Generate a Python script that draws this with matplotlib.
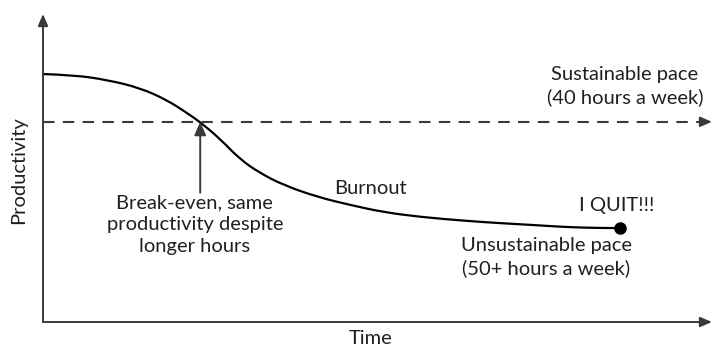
import matplotlib
matplotlib.use("Agg")
import matplotlib.pyplot as plt
from matplotlib.path import Path
from matplotlib.patches import PathPatch

# Productivity over time when working unsustainable hours
time = [0, 4.5, 9.6, 14.5, 18.5, 21.5, 23.5, 26.5, 29.4, 32.4, 35.9, 41.0,
        45.9, 50.8, 56.4, 63.4, 68.3, 73.2, 78.3, 83.3, 86.2]
productivity = [80.5, 80.2, 78.6, 76.0, 72.1, 67.9, 64.9, 59.4, 52.9, 48.4, 44.5,
                40.6, 38.0, 35.7, 34.1, 32.8, 32.1, 31.5, 30.8, 30.5, 30.5]
sustainable_level = 65.0
break_even_time = 23.5
quit_time = time[-1]
quit_level = productivity[-1]

TEXT = "#231f20"
AXIS = "#3a3a3a"
FONT = "Lato"
FS = 14.5

W, H = 712, 347
fig = plt.figure(figsize=(W / 100, H / 100), dpi=100)
ax = fig.add_axes([43 / W, (H - 322) / H, (712 - 43) / W, (322 - 14) / H])
ax.set_xlim(0, 100)
ax.set_ylim(0, 100)
ax.axis("off")

# axes drawn as arrows
arrow_kw = dict(arrowstyle="-|>,head_length=0.7,head_width=0.3", color=AXIS, lw=1.4,
                shrinkA=0, shrinkB=0)
ax.annotate("", xy=(0, 100), xytext=(0, 0), arrowprops=arrow_kw, annotation_clip=False)
ax.annotate("", xy=(100, 0), xytext=(0, 0), arrowprops=arrow_kw, annotation_clip=False)

# sustainable pace (dashed)
ax.plot([0, 99], [sustainable_level, sustainable_level], color=AXIS, lw=1.5,
        dashes=(5.5, 4), clip_on=False)
ax.annotate("", xy=(100, sustainable_level), xytext=(98.5, sustainable_level),
            arrowprops=arrow_kw, annotation_clip=False)

# unsustainable pace curve, smoothed with quadratic Bezier segments
pts = list(zip(time, productivity))
verts = [pts[0]]
codes = [Path.MOVETO]
for i in range(1, len(pts) - 1):
    mid = ((pts[i][0] + pts[i + 1][0]) / 2, (pts[i][1] + pts[i + 1][1]) / 2)
    end = mid if i < len(pts) - 2 else pts[-1]
    verts += [pts[i], end]
    codes += [Path.CURVE3, Path.CURVE3]
ax.add_patch(PathPatch(Path(verts, codes), facecolor="none", edgecolor="black",
                       lw=1.6, clip_on=False, capstyle="round", joinstyle="round"))
ax.plot([quit_time], [quit_level], "o", color="black", ms=8, clip_on=False)

# break-even arrow
ax.annotate("", xy=(break_even_time, sustainable_level), xytext=(break_even_time, 42),
            arrowprops=dict(arrowstyle="-|>,head_length=0.8,head_width=0.35",
                            color=AXIS, lw=1.4, shrinkA=0, shrinkB=0),
            annotation_clip=False)

txt = dict(color=TEXT, fontsize=FS, family=FONT, ha="center", va="center",
           linespacing=1.35)
ax.text(87.0, 76.6, "Sustainable pace\n(40 hours a week)", **txt)
ax.text(85.7, 37.7, "I QUIT!!!", **txt)
ax.text(75.2, 21.1, "Unsustainable pace\n(50+ hours a week)", **txt)
ax.text(49.0, 43.5, "Burnout", **txt)
ax.text(22.7, 31.5, "Break-even, same\nproductivity despite\nlonger hours", **txt)
ax.text(48.9, -5.2, "Time", **txt)
ax.text(-3.7, 49.4, "Productivity", rotation=90, **txt)

fig.savefig("out.png", dpi=100)
